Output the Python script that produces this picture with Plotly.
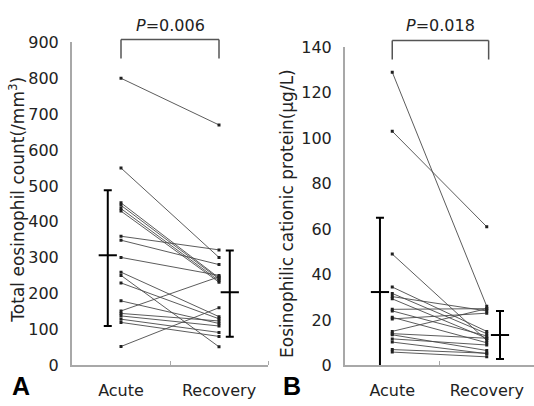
import plotly.graph_objects as go

# ---------------- data ----------------
categories = ["Acute", "Recovery"]

eos_acute = [800, 550, 453, 446, 437, 430, 360, 349, 301, 260, 251, 230, 180, 152, 145, 138, 129, 120, 53]
eos_recovery = [670, 301, 244, 241, 236, 232, 322, 281, 251, 136, 52, 130, 117, 247, 124, 110, 92, 81, 161]

ecp_acute = [129, 103, 49, 34.5, 31.7, 30.3, 29.3, 24.7, 24.0, 21.2, 20.5, 15.0, 14.0, 13.5, 11.7, 10.3, 7.0, 5.9]
ecp_recovery = [26, 61, 11, 15, 14, 24, 12, 25, 13, 10, 23, 25, 12, 6.6, 9, 5.2, 5.4, 3.8]

# mean, upper end, lower end of the error bars
eos_mean = [307, 204]
eos_upper = [488, 320]
eos_lower = [110, 80]
ecp_mean = [32.3, 13.4]
ecp_upper = [65, 24]
ecp_lower = [-0.7, 2.9]

p_texts = ["<i>P</i>=0.006", "<i>P</i>=0.018"]
y_titles = ["Total eosinophil count(/mm<sup>3</sup>)", "Eosinophilic cationic protein(μg/L)"]
y_ticks_A = [0, 100, 200, 300, 400, 500, 600, 700, 800, 900]
y_ticks_B = [0, 20, 40, 60, 80, 100, 120, 140]

# ---------------- figure ----------------
FONT = "DejaVu Sans"
W, H = 534, 406
CAT_X = [0.5, 1.5]
ERR_X_A = [0.365, 1.61]
ERR_X_B = [0.37, 1.64]

fig = go.Figure()


def add_pairs(acute, recov, xa, ya):
    xs, ys = [], []
    for a, r in zip(acute, recov):
        xs += [CAT_X[0], CAT_X[1], None]
        ys += [a, r, None]
    fig.add_trace(go.Scatter(
        x=xs, y=ys, mode="lines+markers", xaxis=xa, yaxis=ya,
        line=dict(color="#4a4a4a", width=0.9),
        marker=dict(symbol="square", size=3, color="#202020"),
        showlegend=False, hoverinfo="skip"))


def add_err(xpos, mean, upper, lower, xa, ya):
    fig.add_trace(go.Scatter(
        x=xpos, y=mean, mode="markers", xaxis=xa, yaxis=ya,
        marker=dict(symbol="line-ew", size=13, line=dict(width=2, color="black")),
        error_y=dict(type="data", symmetric=False,
                     array=[u - m for u, m in zip(upper, mean)],
                     arrayminus=[m - l for m, l in zip(mean, lower)],
                     color="black", thickness=2, width=4),
        cliponaxis=False, showlegend=False, hoverinfo="skip"))


add_pairs(eos_acute, eos_recovery, "x", "y")
add_err(ERR_X_A, eos_mean, eos_upper, eos_lower, "x", "y")
add_pairs(ecp_acute, ecp_recovery, "x2", "y2")
add_err(ERR_X_B, ecp_mean, ecp_upper, ecp_lower, "x2", "y2")

y_bottom = (H - 374) / H

xaxis_common = dict(
    range=[0, 2], showline=True, linecolor="#a8a8a8", linewidth=2,
    showgrid=False, zeroline=False, tickvals=CAT_X, ticktext=categories,
    ticks="", ticklabelstandoff=9,
    tickfont=dict(family=FONT, size=16, color="#222"),
    minor=dict(tickvals=[1, 2], ticks="inside", ticklen=4, tickcolor="#a8a8a8", tickwidth=1),
)
yaxis_common = dict(
    showline=True, linecolor="#a8a8a8", linewidth=2, showgrid=False,
    zeroline=False, ticks="", ticklabelstandoff=8,
    tickfont=dict(family=FONT, size=16, color="#222"),
)

fig.update_layout(
    width=W, height=H,
    margin=dict(l=0, r=0, t=0, b=0),
    paper_bgcolor="white", plot_bgcolor="white",
    xaxis=dict(domain=[72 / W, 268 / W], anchor="y", **xaxis_common),
    yaxis=dict(domain=[y_bottom, (H - 35) / H], range=[0, 900], anchor="x",
               tickvals=y_ticks_A, **yaxis_common),
    xaxis2=dict(domain=[345 / W, 1.0], anchor="y2", **xaxis_common),
    yaxis2=dict(domain=[y_bottom, (H - 40) / H], range=[0, 140], anchor="x2",
                tickvals=y_ticks_B, **yaxis_common),
)

# brackets for significance
def bracket(xref, x0, x1, ytop, ybot):
    for (a, b, c, d) in [(x0, ytop, x1, ytop), (x0, ytop, x0, ybot), (x1, ytop, x1, ybot)]:
        fig.add_shape(type="line", xref=xref, yref="paper", x0=a, y0=b, x1=c, y1=d,
                      line=dict(color="#555", width=1.5))


bracket("x", 0.5, 1.5, (H - 32) / H, (H - 52) / H)
bracket("x2", 0.5, 1.52, (H - 33) / H, (H - 53) / H)

annots = [
    dict(x=170 / W, y=(H - 17) / H, text=p_texts[0], font=dict(family=FONT, size=16, color="#222")),
    dict(x=440 / W, y=(H - 17) / H, text=p_texts[1], font=dict(family=FONT, size=16, color="#222")),
    dict(x=17 / W, y=(H - 200) / H, text=y_titles[0], textangle=-90,
         font=dict(family=FONT, size=17, color="#222")),
    dict(x=287 / W, y=(H - 215) / H, text=y_titles[1], textangle=-90,
         font=dict(family=FONT, size=17, color="#222")),
    dict(x=21 / W, y=(H - 395) / H, text="<b>A</b>",
         font=dict(family="Liberation Sans", size=25, color="black")),
    dict(x=292 / W, y=(H - 395) / H, text="<b>B</b>",
         font=dict(family="Liberation Sans", size=25, color="black")),
]
for a in annots:
    fig.add_annotation(xref="paper", yref="paper", showarrow=False,
                       xanchor="center", yanchor="middle", **a)

fig.write_html("out.html")
